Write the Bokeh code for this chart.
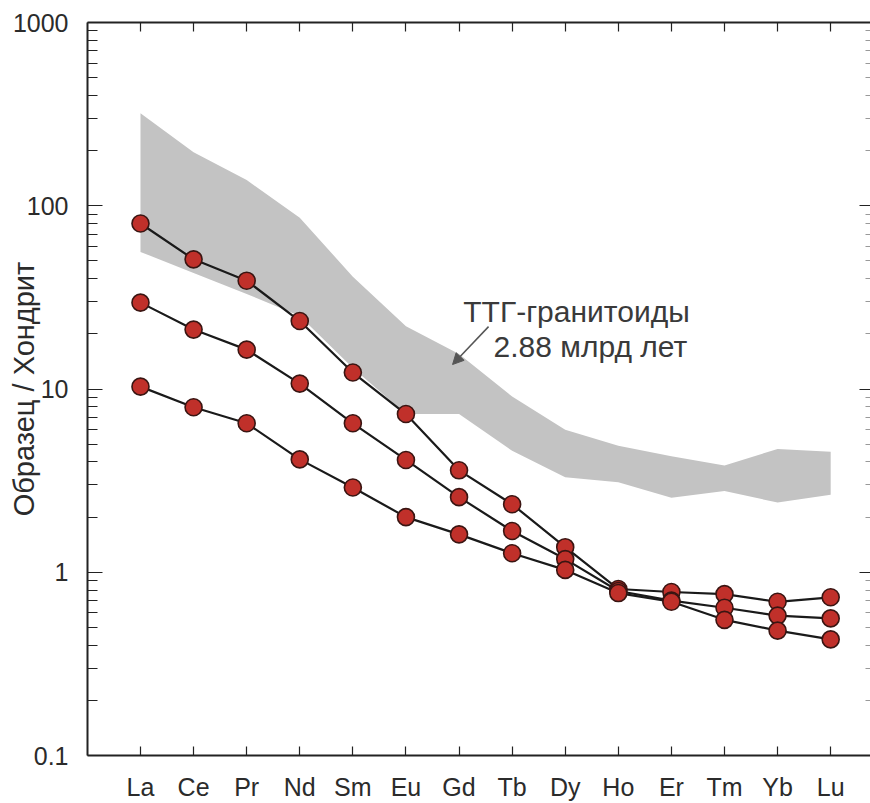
import math
from bokeh.plotting import figure
from bokeh.models import (FixedTicker, CustomJSTickFormatter, LinearAxis, LogAxis,
                          Label, Arrow, NormalHead, Range1d)
from bokeh.embed import file_html
from bokeh.resources import INLINE

# ---------------- data ----------------
elements = ["La", "Ce", "Pr", "Nd", "Sm", "Eu", "Gd", "Tb", "Dy", "Ho", "Er", "Tm", "Yb", "Lu"]
sample_high = [80, 51, 39, 23.5, 12.3, 7.3, 3.6, 2.35, 1.37, 0.81, 0.78, 0.76, 0.69, 0.73]
sample_mid = [29.6, 21.1, 16.4, 10.7, 6.5, 4.1, 2.57, 1.68, 1.18, 0.79, 0.70, 0.64, 0.58, 0.56]
sample_low = [10.3, 7.95, 6.5, 4.13, 2.9, 2.0, 1.61, 1.27, 1.03, 0.77, 0.69, 0.55, 0.48, 0.43]
ttg_upper = [320, 196, 138, 86, 41, 22, 15.5, 9.1, 6.0, 4.9, 4.3, 3.83, 4.7, 4.55]
ttg_lower = [56, 43, 33, 25, 13, 7.3, 7.3, 4.6, 3.3, 3.1, 2.55, 2.78, 2.4, 2.65]
y_major = [0.1, 1, 10, 100, 1000]
y_minor = [m * 10.0 ** d for d in range(-1, 3) for m in range(2, 10)]
label_ttg_1 = "ТТГ-гранитоиды"
label_ttg_2 = "2.88 млрд лет"
y_label = "Образец / Хондрит"

FONT = "Liberation Sans"
AX = "#222222"
TXT = "#2b2b2b"

xs = list(range(len(elements)))

p = figure(width=870, height=803, output_backend="svg", toolbar_location=None,
           y_axis_type="log", x_range=Range1d(-0.998, 13.75), y_range=Range1d(0.1, 1000),
           min_border_left=87, min_border_right=0, min_border_top=22, min_border_bottom=46)
p.outline_line_color = None
p.xgrid.visible = False
p.ygrid.visible = False
p.background_fill_color = "white"
p.border_fill_color = "white"

# TTG band
band_x = xs + xs[::-1]
band_y = ttg_upper + ttg_lower[::-1]
p.patch(band_x, band_y, fill_color="#c3c3c3", line_color=None)

# sample lines
for s in (sample_high, sample_mid, sample_low):
    p.line(xs, s, line_color="#1a1a1a", line_width=2.2)
for s in (sample_high, sample_mid, sample_low):
    p.scatter(xs, s, size=17, marker="circle", fill_color="#c0302a",
              line_color="#3a1512", line_width=1.6)

# axes
xticker = FixedTicker(ticks=xs)
xlabels = {i: e for i, e in enumerate(elements)}
yticker = FixedTicker(ticks=y_major, minor_ticks=y_minor)
yfmt = CustomJSTickFormatter(code="return String(tick);")
blank = CustomJSTickFormatter(code="return '';")

xa = p.xaxis[0]
xa.ticker = xticker
xa.major_label_overrides = xlabels
xa.major_tick_in = 9
xa.major_tick_out = 0
xa.minor_tick_line_color = None
xa.axis_line_width = 2
xa.axis_line_color = AX
xa.major_tick_line_color = AX
xa.major_tick_line_width = 1.2
xa.major_label_text_font = FONT
xa.major_label_text_font_size = "25px"
xa.major_label_text_color = TXT
xa.major_label_standoff = 17

ya = p.yaxis[0]
ya.ticker = yticker
ya.formatter = yfmt
ya.major_tick_in = 15
ya.major_tick_out = 0
ya.minor_tick_in = 10
ya.minor_tick_out = 0
ya.axis_line_width = 2
ya.axis_line_color = AX
ya.major_tick_line_color = AX
ya.minor_tick_line_color = AX
ya.major_tick_line_width = 1.2
ya.minor_tick_line_width = 1.2
ya.major_label_text_font = FONT
ya.major_label_text_font_size = "25px"
ya.major_label_text_color = TXT
ya.major_label_standoff = 19
ya.axis_label = y_label
ya.axis_label_text_font = FONT
ya.axis_label_text_font_size = "29px"
ya.axis_label_text_font_style = "normal"
ya.axis_label_text_color = TXT
ya.axis_label_standoff = -30

top = LinearAxis(ticker=xticker, formatter=blank, major_label_standoff=0,
                 major_tick_in=9, major_tick_out=0, minor_tick_line_color=None,
                 axis_line_width=2, axis_line_color=AX, major_tick_line_color=AX,
                 major_tick_line_width=1.2)
p.add_layout(top, "above")

right = LogAxis(ticker=yticker, formatter=blank, major_label_standoff=0,
                major_tick_in=11, major_tick_out=0, minor_tick_in=5, minor_tick_out=0,
                axis_line_color=None, major_tick_line_color=AX, minor_tick_line_color="#999999",
                major_tick_line_width=1.2, minor_tick_line_width=1)
p.add_layout(right, "right")

# annotation
p.add_layout(Label(x=6.08, y=26.5, text=label_ttg_1, text_align="left",
                   text_baseline="alphabetic", text_font=FONT,
                   text_font_size="30px", text_color="#3a3a3a"))
p.add_layout(Label(x=6.65, y=17.0, text=label_ttg_2, text_align="left",
                   text_baseline="alphabetic", text_font=FONT,
                   text_font_size="30px", text_color="#3a3a3a"))
p.add_layout(Arrow(end=NormalHead(size=11, fill_color="#555555", line_color="#555555"),
                   x_start=6.556, y_start=21.9, x_end=5.878, y_end=13.6,
                   line_color="#555555", line_width=1.5))

open("out.html", "w").write(file_html(p, INLINE))
